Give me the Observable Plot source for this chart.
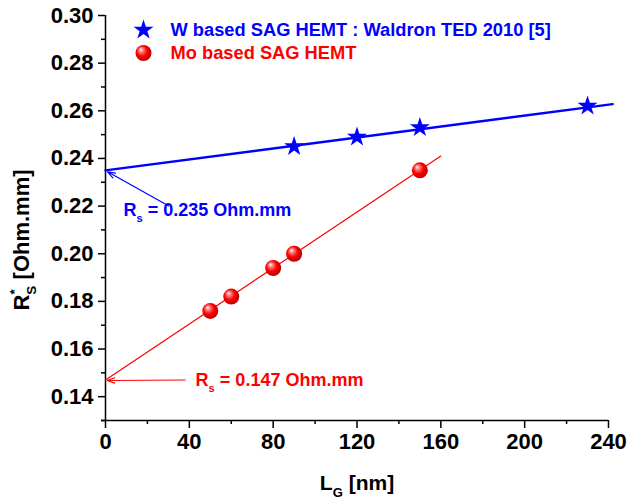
<!DOCTYPE html>
<html>
<head>
<meta charset="utf-8">
<script src="https://cdn.jsdelivr.net/npm/d3@7"></script>
<script src="https://cdn.jsdelivr.net/npm/@observablehq/plot@0.6"></script>
<style>
  body { margin: 0; background: #fff; }
  #chart svg { font-family: Arial, "Liberation Sans", sans-serif; font-weight: bold; }
</style>
</head>
<body>
<div id="chart"></div>
<script>
// ---- data ----
const wLg = [90, 120, 150, 230];                 // W based SAG HEMT (Waldron TED 2010)
const wRs = [0.245, 0.249, 0.253, 0.262];
const moLg = [50, 60, 80, 90, 150];              // Mo based SAG HEMT
const moRs = [0.176, 0.182, 0.194, 0.200, 0.235];
const wFitLg = [0, 242];                         // linear fit, W
const wFitRs = [0.235, 0.2628];
const moFitLg = [0, 160];                        // linear fit, Mo
const moFitRs = [0.147, 0.241];
const wIntercept = 0.235;
const moIntercept = 0.147;
const xMajorTicks = [0, 40, 80, 120, 160, 200, 240];
const xMinorTicks = [20, 60, 100, 140, 180, 220];
const yMajorTicks = [0.14, 0.16, 0.18, 0.20, 0.22, 0.24, 0.26, 0.28, 0.30];
const yMinorTicks = [0.13, 0.15, 0.17, 0.19, 0.21, 0.23, 0.25, 0.27, 0.29];
const legendLabels = ["W based SAG HEMT : Waldron TED 2010 [5]", "Mo based SAG HEMT"];
const interceptLabels = ["R{_s} = 0.235 Ohm.mm", "R{_s} = 0.147 Ohm.mm"];
const xLabel = "L{_G} [nm]";
const yLabel = "R{^*}{_S} [Ohm.mm]";

// ---- layout (annotation placement in data units) ----
const BLUE = "#0000ff", RED = "#ff0000";
const wTable = wLg.map((x, i) => ({x, y: wRs[i]}));
const moTable = moLg.map((x, i) => ({x, y: moRs[i]}));
const wFit = wFitLg.map((x, i) => ({x, y: wFitRs[i]}));
const moFit = moFitLg.map((x, i) => ({x, y: moFitRs[i]}));
const arrows = [
  {x1: 30, y1: 0.2201, x2: 1, y2: wIntercept - 0.0006, color: BLUE},
  {x1: 38, y1: moIntercept, x2: 0.8, y2: moIntercept - 0.0002, color: RED}
];
const labels = [
  {x: 8.6, y: 0.2181, text: interceptLabels[0], color: BLUE},
  {x: 43, y: 0.1468, text: interceptLabels[1], color: RED}
];

const axisStyle = {stroke: "#000", strokeWidth: 1.5, fontSize: 22, fontWeight: "bold", label: null};

const plot = Plot.plot({
  width: 638,
  height: 501,
  marginLeft: 105,
  marginRight: 30,
  marginTop: 15,
  marginBottom: 81,
  style: {fontFamily: 'Arial, "Liberation Sans", sans-serif', fontWeight: "bold", fontSize: "22px", background: "#fff", color: "#000"},
  x: {domain: [0, 240]},
  y: {domain: [0.13, 0.30]},
  marks: [
    // axis lines
    Plot.ruleX([0], {y1: 0.13, y2: 0.30, stroke: "#000", strokeWidth: 1.5}),
    Plot.ruleY([0.13], {stroke: "#000", strokeWidth: 1.5, insetLeft: -4}),
    // ticks
    Plot.axisX(xMajorTicks, {...axisStyle, tickSize: 8, tickPadding: 5, tickFormat: d => String(d)}),
    Plot.axisX(xMinorTicks, {...axisStyle, tickSize: 4, fill: "none"}),
    Plot.axisY(yMajorTicks, {...axisStyle, tickSize: 7, tickPadding: 5, tickFormat: d => d.toFixed(2)}),
    Plot.axisY(yMinorTicks, {...axisStyle, tickSize: 4, fill: "none"}),
    // fit lines
    Plot.line(wFit, {x: "x", y: "y", stroke: BLUE, strokeWidth: 2.4}),
    Plot.line(moFit, {x: "x", y: "y", stroke: RED, strokeWidth: 1.2}),
    // annotation arrows
    Plot.arrow(arrows, {x1: "x1", y1: "y1", x2: "x2", y2: "y2", stroke: "color", strokeWidth: 1.2, headLength: 10, headAngle: 40}),
    // data points
    Plot.dot(wTable, {x: "x", y: "y", symbol: "star", r: 6.3, fill: BLUE, stroke: "none"}),
    Plot.dot(moTable, {x: "x", y: "y", r: 8, fill: "url(#sphere)", stroke: "none"}),
    // annotation texts
    Plot.text(labels, {x: "x", y: "y", text: "text", fill: "color", textAnchor: "start", lineAnchor: "middle", fontSize: 18, fontWeight: "bold"}),
    // legend
    Plot.dot([legendLabels[0]], {frameAnchor: "top-left", dx: 38, dy: 14.5, symbol: "star", r: 6.3, fill: BLUE, stroke: "none"}),
    Plot.dot([legendLabels[1]], {frameAnchor: "top-left", dx: 38, dy: 37.5, r: 8, fill: "url(#sphere)", stroke: "none"}),
    Plot.text([legendLabels[0]], {frameAnchor: "top-left", dx: 65, dy: 14.5, text: d => d, fill: BLUE, textAnchor: "start", lineAnchor: "middle", fontSize: 18.3, fontWeight: "bold"}),
    Plot.text([legendLabels[1]], {frameAnchor: "top-left", dx: 65, dy: 37.5, text: d => d, fill: RED, textAnchor: "start", lineAnchor: "middle", fontSize: 18.3, fontWeight: "bold"}),
    // axis titles
    Plot.text([xLabel], {frameAnchor: "bottom", dy: 63, text: d => d, fill: "#000", textAnchor: "middle", lineAnchor: "middle", fontSize: 21, fontWeight: "bold"}),
    Plot.text([yLabel], {frameAnchor: "top-left", dx: -84, dy: 295, rotate: -90, text: d => d, fill: "#000", textAnchor: "start", lineAnchor: "middle", fontSize: 22, fontWeight: "bold"})
  ]
});

document.getElementById("chart").appendChild(plot);

// sphere gradient for the Mo markers
const defs = d3.select(plot).insert("defs", ":first-child");
const grad = defs.append("radialGradient").attr("id", "sphere")
  .attr("cx", "45%").attr("cy", "45%").attr("r", "60%").attr("fx", "33%").attr("fy", "28%");
[["0%", "#ffffff"], ["22%", "#ff8080"], ["55%", "#ff0000"], ["100%", "#b00000"]]
  .forEach(([o, c]) => grad.append("stop").attr("offset", o).attr("stop-color", c));

// turn {_x} / {^x} markers into subscript / superscript tspans
const NS = "http://www.w3.org/2000/svg";
d3.select(plot).selectAll("text").each(function () {
  const src = this.textContent;
  if (!/\{[_^]/.test(src)) return;
  const fs = parseFloat(getComputedStyle(this).fontSize) || 18;
  const parts = src.split(/(\{[_^][^}]*\})/).filter(s => s.length);
  while (this.firstChild) this.removeChild(this.firstChild);
  let cur = 0, supW = 0;
  for (const p of parts) {
    const t = document.createElementNS(NS, "tspan");
    let target = 0, text = p, small = false, dx = 0;
    if (p.startsWith("{_")) { target = 0.32 * fs; text = p.slice(2, -1); small = true; dx = -supW; supW = 0; }
    else if (p.startsWith("{^")) { target = -0.42 * fs; text = p.slice(2, -1); small = true; }
    else { supW = 0; }
    if (small) t.setAttribute("font-size", (0.62 * fs).toFixed(1));
    if (target - cur !== 0) t.setAttribute("dy", (target - cur).toFixed(2));
    if (dx) t.setAttribute("dx", dx.toFixed(2));
    t.textContent = text;
    this.appendChild(t);
    if (p.startsWith("{^")) supW = t.getComputedTextLength();
    cur = target;
  }
});
</script>
</body>
</html>
